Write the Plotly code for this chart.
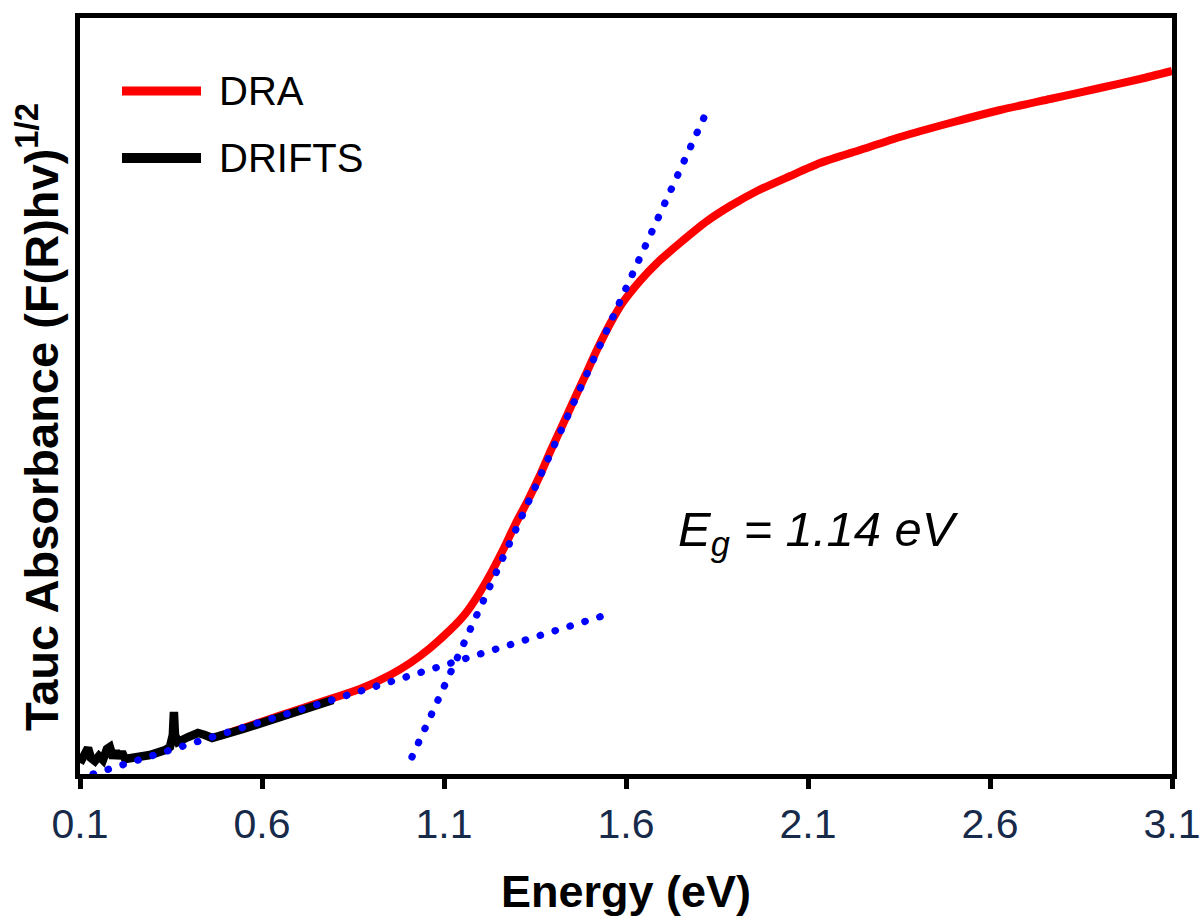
import plotly.graph_objects as go

# ---------------- data ----------------
# DRIFTS spectrum (black), Tauc-transformed, arbitrary units
drifts_E = [0.100, 0.111, 0.122, 0.130, 0.141, 0.152, 0.163, 0.174, 0.182, 0.191,
            0.199, 0.207, 0.215, 0.224, 0.251, 0.292, 0.334, 0.347, 0.355, 0.358,
            0.361, 0.369, 0.397, 0.424, 0.443, 0.463, 0.548, 0.638, 0.729, 0.795]
drifts_y = [1.46, 2.25, 3.44, 2.12, 1.72, 2.38, 1.85, 3.31, 3.57, 2.12,
            3.04, 2.12, 2.91, 1.98, 2.12, 2.51, 3.17, 3.57, 5.16, 8.20,
            5.16, 4.23, 4.89, 5.42, 5.16, 4.76, 5.95, 7.28, 8.73, 9.79]

# DRA spectrum (red), Tauc-transformed, arbitrary units
dra_E = [0.485, 0.595, 0.704, 0.795, 0.869, 0.952, 1.007, 1.062, 1.117, 1.158,
         1.193, 1.226, 1.262, 1.295, 1.331, 1.364, 1.394, 1.427, 1.457, 1.490,
         1.520, 1.562, 1.592, 1.638, 1.685, 1.748, 1.823, 1.886, 1.960, 2.051,
         2.133, 2.243, 2.353, 2.490, 2.628, 2.765, 2.902, 3.012, 3.100]
dra_y = [5.05, 6.85, 8.60, 10.05, 11.24, 13.10, 14.68, 16.67, 19.05, 21.16,
         23.60, 26.30, 29.63, 32.94, 36.24, 39.55, 42.86, 46.30, 49.47, 52.91,
         56.08, 60.05, 62.43, 65.21, 67.59, 70.24, 73.15, 75.13, 77.12, 79.10,
         80.82, 82.54, 84.26, 86.11, 87.83, 89.29, 90.74, 91.93, 92.99]

# Tauc fit lines (blue dotted)
fit_edge_E = [1.012, 1.829]
fit_edge_y = [2.25, 88.40]
fit_base_E = [0.136, 1.553]
fit_base_y = [0.00, 21.16]

x_ticks = [0.1, 0.6, 1.1, 1.6, 2.1, 2.6, 3.1]
x_ticklabels = ["0.1", "0.6", "1.1", "1.6", "2.1", "2.6", "3.1"]
series_names = ["DRA", "DRIFTS"]
series_colors = ["#ff0000", "#000000"]
gap_label = "<i>E</i><sub><i>g</i></sub><i> = 1.14 eV</i>"
y_title = "<b>Tauc Absorbance (F(R)hv)<sup>1/2</sup></b>"
x_title = "<b>Energy (eV)</b>"

FONT = "Liberation Sans, Arial, Helvetica, sans-serif"

fig = go.Figure()
fig.add_trace(go.Scatter(x=dra_E, y=dra_y, mode="lines", name=series_names[0],
                         line=dict(color=series_colors[0], width=8, shape="spline", smoothing=0.6),
                         showlegend=False))
fig.add_trace(go.Scatter(x=drifts_E, y=drifts_y, mode="lines", name=series_names[1],
                         line=dict(color=series_colors[1], width=8.5),
                         showlegend=False))
for ex, ey in [(fit_edge_E, fit_edge_y), (fit_base_E, fit_base_y)]:
    fig.add_trace(go.Scatter(x=ex, y=ey, mode="lines",
                             line=dict(color="#0000ff", width=7.2, dash="0.5px,15.1px"),
                             showlegend=False, hoverinfo="skip"))

# manual legend (long line samples like the reference)
W, H = 1202, 919
ML, MR, MT, MB = 80, 30, 18, 145
pw, ph = W - ML - MR, H - MT - MB
def px(x):
    return (x - ML) / pw
def py(y):
    return (H - MB - y) / ph

legend_rows = [91, 158]
for name, col, yy, lw in zip(series_names, series_colors, legend_rows, [9, 10]):
    fig.add_shape(type="line", xref="paper", yref="paper",
                  x0=px(122), x1=px(201), y0=py(yy), y1=py(yy),
                  line=dict(color=col, width=lw))
    fig.add_annotation(xref="paper", yref="paper", x=px(217), y=py(yy),
                       xanchor="left", yanchor="middle", showarrow=False,
                       text=name, font=dict(family=FONT, size=40, color="#000000"))

fig.add_annotation(x=2.13, y=32.0, xanchor="center", yanchor="middle", showarrow=False,
                   text=gap_label, font=dict(family=FONT, size=49, color="#000000"))

# y-axis title as rotated text (placed like the reference)
fig.add_annotation(xref="paper", yref="paper", x=px(38), y=py(417),
                   xanchor="center", yanchor="middle", showarrow=False, textangle=-90,
                   text=y_title, font=dict(family=FONT, size=47, color="black"))

fig.update_layout(
    width=W, height=H,
    margin=dict(l=ML, r=MR, t=MT, b=MB, pad=0, autoexpand=False),
    paper_bgcolor="white", plot_bgcolor="white",
    font=dict(family=FONT),
    xaxis=dict(range=[0.1, 3.1], tickvals=x_ticks, ticktext=x_ticklabels,
               ticks="outside", ticklen=10, tickwidth=5, tickcolor="black",
               showline=True, linewidth=5, linecolor="black", mirror=True,
               showgrid=False, zeroline=False, automargin=False,
               tickfont=dict(family=FONT, size=41, color="#172a4a"),
               title=dict(text=x_title, standoff=31,
                          font=dict(family=FONT, size=45, color="black"))),
    yaxis=dict(range=[0, 100], showticklabels=False, ticks="",
               showline=True, linewidth=5, linecolor="black", mirror=True,
               showgrid=False, zeroline=False, automargin=False),
    showlegend=False,
)

post = """
var fixCaps = function(){
  document.querySelectorAll('path.js-line').forEach(function(p){
    var s = (p.style.stroke || '');
    if (s.indexOf('0, 0, 255') >= 0 || s.indexOf('#0000ff') >= 0) {
      p.style.strokeLinecap = 'round';
    }
  });
};
fixCaps();
var gd = document.getElementById('{plot_id}');
if (gd && gd.on) { gd.on('plotly_afterplot', fixCaps); }
"""
fig.write_html("out.html", post_script=post)
